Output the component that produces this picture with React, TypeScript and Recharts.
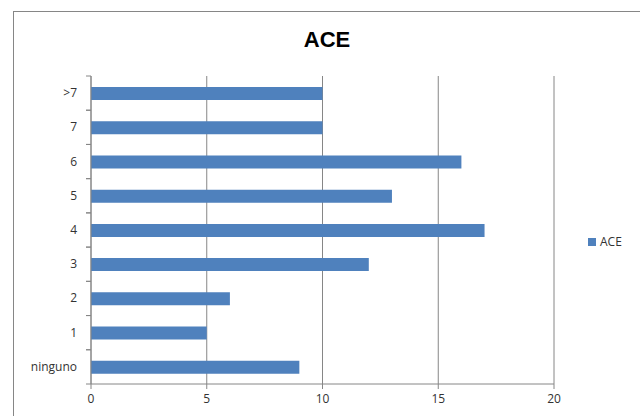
import React from 'react';
import { BarChart, Bar, XAxis, YAxis, CartesianGrid } from 'recharts';

const categories = ['ninguno', '1', '2', '3', '4', '5', '6', '7', '>7'];
const aceValues = [9, 5, 6, 12, 17, 13, 16, 10, 10];
const xTicks = [0, 5, 10, 15, 20];

const data = categories.map((name, i) => ({ name, ACE: aceValues[i] }));

const gray = '#868686';
const barColor = '#4F81BD';
const font = '"Open Sans", Arial, sans-serif';
const titleFont = '"Liberation Sans", Arial, sans-serif';

const CategoryTick = (props: any) => {
  const { x, y, payload } = props;
  const half = payload.offset || 0;
  return (
    <g>
      <line x1={x + 9} x2={x + 14} y1={y - half} y2={y - half} stroke={gray} />
      <line x1={x + 9} x2={x + 14} y1={y + half} y2={y + half} stroke={gray} />
      <text x={x} y={y} dy={4} textAnchor="end" fontSize={12} fill="#333" fontFamily={font}>
        {payload.value}
      </text>
    </g>
  );
};

export default function App() {
  return (
    <div style={{ position: 'absolute', left: 0, top: 0, width: 640, height: 416, overflow: 'hidden', background: '#fff' }}>
      <div style={{ position: 'absolute', left: 13, top: 11, width: 700, height: 500, border: `1px solid ${gray}` }} />
      <div style={{ position: 'absolute', left: 0, top: 27, width: 654, textAlign: 'center', fontFamily: titleFont, fontWeight: 'bold', fontSize: 22, color: '#000' }}>
        ACE
      </div>
      <div style={{ position: 'absolute', left: 0, top: 0 }}>
        <BarChart
          width={640}
          height={416}
          data={data}
          layout="vertical"
          margin={{ top: 76, right: 86, bottom: 2, left: 0 }}
          barSize={13}
        >
          <CartesianGrid horizontal={false} stroke={gray} strokeDasharray="" />
          <XAxis
            type="number"
            domain={[0, 20]}
            ticks={xTicks}
            stroke={gray}
            tickSize={5}
            tickMargin={5}
            tick={{ fontSize: 12, fill: '#333', fontFamily: font }}
            height={30}
          />
          <YAxis
            type="category"
            dataKey="name"
            reversed
            width={91}
            stroke={gray}
            tickLine={false}
            tickSize={5}
            tickMargin={9}
            interval={0}
            tick={<CategoryTick />}
          />
          <Bar dataKey="ACE" fill={barColor} isAnimationActive={false} />
        </BarChart>
      </div>
      <div style={{ position: 'absolute', left: 588, top: 233, display: 'flex', alignItems: 'center', fontFamily: font, fontSize: 12, color: '#333' }}>
        <span style={{ display: 'inline-block', width: 8, height: 8, background: barColor, marginRight: 4 }} />
        ACE
      </div>
    </div>
  );
}
